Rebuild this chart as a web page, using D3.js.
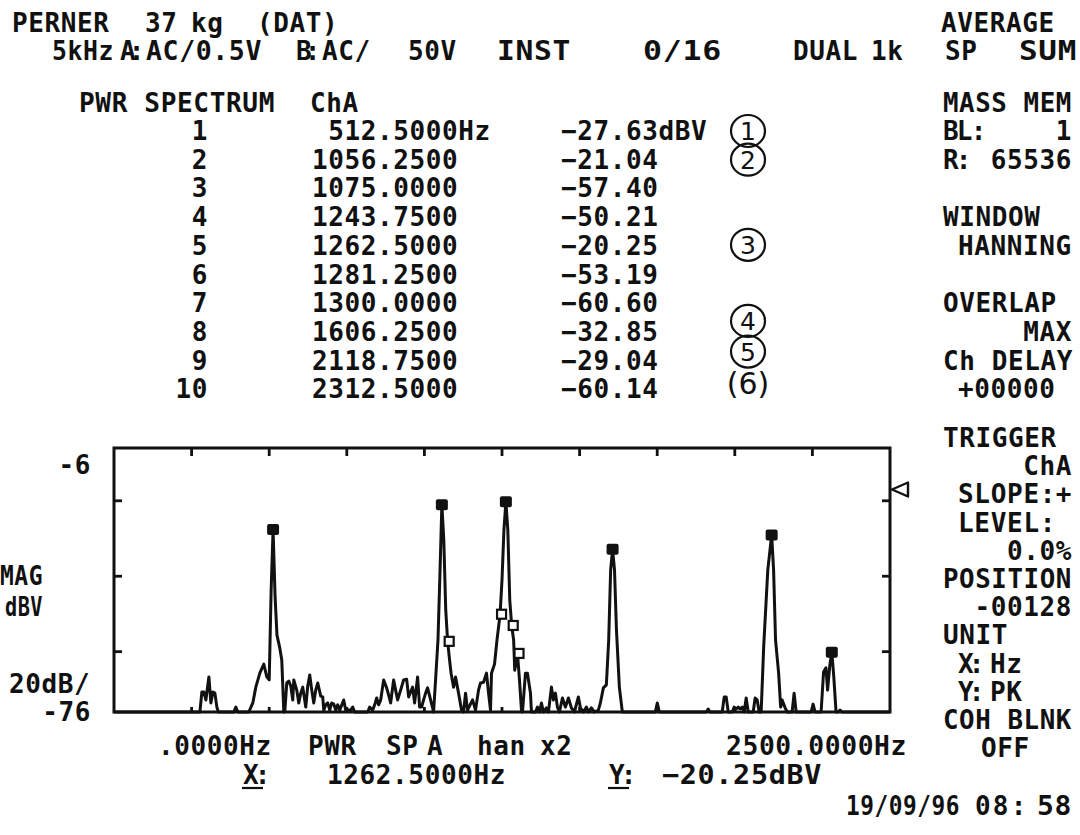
<!DOCTYPE html>
<html><head><meta charset="utf-8">
<script src="https://cdn.jsdelivr.net/npm/d3@7"></script>
<style>
html,body{margin:0;padding:0;background:#fff;}
svg text{font-family:"DejaVu Sans Mono",monospace;font-weight:bold;font-size:26px;fill:#111;letter-spacing:0.6px;white-space:pre;}
svg text.hand{font-family:"DejaVu Sans",sans-serif;font-weight:normal;font-size:25px;letter-spacing:0;}
</style></head><body>
<svg id="c" width="1080" height="835"></svg>
<script>
// ---- data ----
const peakIndex = [1,2,3,4,5,6,7,8,9,10];
const peakHz = [512.5,1056.25,1075,1243.75,1262.5,1281.25,1300,1606.25,2118.75,2312.5];
const peakDb = [-27.63,-21.04,-57.40,-50.21,-20.25,-53.19,-60.60,-32.85,-29.04,-60.14];
const peakFilled = [true,true,false,false,true,false,false,true,true,true];
const noteRows = [1,2,5,8,9,10];
const noteLabels = ["1","2","3","4","5","(6)"];
const xDomain = [0,2500];
const yDomain = [-76,-6];
const xTicks = [250,500,750,1000,1250,1500,1750,2000,2250];
const yTicks = [-20,-40,-60];
const yEndLabels = ["-6","-76"];
const xEndLabels = [".0000Hz","2500.0000Hz"];
const cursorHz = 1262.5, cursorDb = -20.25;
const triggerMarkDb = -17;
const spectrumTrace = [
[0,-76],[244.5,-76],[276.7,-76],[283.1,-70.7],[289.6,-70.7],[296.0,-72.8],[305.7,-66.7],[312.1,-73.6],[318.5,-70.7],[325.0,-71.0],[331.4,-74.7],[336.2,-76],
[386.1,-76],[392.5,-74.7],[399.0,-76],[434.4,-76],[447.2,-73.6],[456.9,-69.4],[469.8,-65.7],[482.6,-63.3],[492.3,-66.7],[500,-67.5],[506.25,-43.7],[512.5,-27.63],
[518.75,-45.0],[525,-55.6],[534.1,-59.0],[540.5,-62.2],[547.0,-76],[550.2,-76],[556.6,-68.3],[563.1,-67.8],[569.5,-69.1],[575.9,-72.8],[579.2,-67.5],[588.8,-70.2],
[595.2,-73.6],[601.7,-71.0],[608.1,-69.4],[617.8,-74.7],[624.2,-69.1],[630.6,-66.2],[637.1,-70.2],[643.5,-73.6],[649.9,-70.2],[656.4,-68.3],[666.0,-71.8],[672.5,-72.0],
[675.7,-75.5],[682.1,-74.1],[688.5,-73.6],[695.0,-75.5],[701.4,-73.6],[707.9,-73.9],[714.3,-75.5],[720.7,-74.1],[727.2,-75.5],[740.0,-72.8],[746.5,-75.5],[762.5,-75.5],
[769.0,-74.7],[775.4,-76],[817.2,-76],[823.7,-74.7],[833.3,-75.5],[839.8,-74.1],[846.2,-72.3],[852.6,-74.1],[859.1,-72.8],[868.7,-67.5],[878.4,-69.6],[884.8,-71.5],
[891.2,-73.6],[900.9,-67.5],[907.3,-70.2],[913.8,-72.8],[923.4,-70.2],[933.1,-67.5],[942.7,-67.3],[949.2,-72.0],[955.6,-70.7],[962.0,-69.4],[968.5,-73.6],[978.1,-66.7],
[984.6,-74.7],[991.0,-74.7],[997.4,-72.8],[1003.9,-71.0],[1010.3,-69.6],[1020.0,-72.8],[1029.6,-76],[1036.0,-67.5],[1043.75,-56.9],[1050,-39.7],[1056.25,-21.04],
[1062.5,-30.4],[1068.75,-49.0],[1075,-57.40],[1081.1,-62.2],[1085.9,-65.7],[1094.0,-69.4],[1100.4,-66.7],[1110.0,-71.0],[1119.7,-75.5],[1126.1,-76],[1132.6,-71.0],
[1139.0,-75.5],[1155.1,-72.8],[1164.7,-75.5],[1174.4,-70.2],[1180.8,-68.3],[1190.5,-68.1],[1200.1,-65.7],[1206.6,-71.0],[1213.0,-75.5],[1216.2,-65.7],[1225.9,-63.3],
[1233.9,-56.9],[1243.75,-50.21],[1250,-41.0],[1256.25,-27.7],[1262.5,-20.25],[1268.75,-27.7],[1275,-46.3],[1281.25,-53.19],[1287.5,-56.9],[1291,-64.9],[1300,-60.60],
[1306.3,-67.5],[1312.7,-75.5],[1316,-76],[1325.6,-65.7],[1332.0,-65.7],[1341.7,-71.0],[1344.9,-76],[1357.8,-76],[1364.2,-74.7],[1370.7,-76],[1377.1,-73.6],[1383.5,-76],
[1393.2,-74.9],[1399.6,-76],[1409.3,-69.4],[1415.7,-72.8],[1422.1,-71.0],[1428.6,-74.7],[1435.0,-76],[1444.7,-72.3],[1454.3,-74.7],[1464.0,-72.3],[1473.6,-74.9],
[1483.3,-76],[1496.1,-72.0],[1502.6,-74.9],[1512.2,-76],[1521.9,-74.7],[1528.3,-76],[1538.0,-74.9],[1547.6,-76],[1560.5,-75.5],[1566.9,-73.6],[1576.6,-69.6],[1586.2,-68.8],
[1593.75,-56.9],[1600,-38.4],[1606.25,-32.85],[1612.5,-38.4],[1618.75,-54.3],[1628.1,-69.4],[1637.7,-76],[1743.9,-76],[1750.3,-73.6],[1756.8,-76],[1908.0,-76],
[1914.4,-75.2],[1920.8,-76],[1959.5,-76],[1965.9,-72.0],[1972.3,-72.0],[1978.8,-76],[1991.6,-76],[1998.1,-74.7],[2004.5,-75.2],[2010.9,-74.7],[2017.4,-75.2],[2023.8,-74.7],
[2030.2,-76],[2036.7,-72.3],[2043.1,-76],[2059.2,-76],[2065.6,-72.3],[2072.1,-72.8],[2078.5,-76],[2084.9,-76],[2093.0,-58.8],[2106.25,-38.4],[2118.75,-29.04],[2125,-38.4],
[2131.25,-56.9],[2141.2,-65.7],[2147.7,-74.7],[2152.5,-72.8],[2162.2,-74.9],[2168.6,-76],[2184.7,-76],[2191.1,-71.0],[2197.6,-76],[2245.8,-76],[2252.3,-73.9],[2258.7,-76],
[2278.0,-76],[2286.0,-65.4],[2293.75,-64.3],[2298.9,-70.2],[2306.25,-63.5],[2312.5,-60.14],[2318.75,-66.5],[2326.2,-76],[2332.7,-76],[2339.1,-75.5],[2345.6,-76],[2500,-76]
];

// ---- drawing ----
const svg = d3.select("#c");
const ink = "#111";
const L = 114, R = 890, T = 448, B = 712;
const x = d3.scaleLinear().domain(xDomain).range([L, R]);
const y = d3.scaleLinear().domain(yDomain).range([B, T]);

function txt(px, py, s, anchor, cls, len, adj){
  const t = svg.append("text").attr("x", px).attr("y", py).attr("text-anchor", anchor || "start")
    .attr("class", cls || null).text(s);
  if (len) t.attr("textLength", len).attr("lengthAdjust", adj || "spacingAndGlyphs");
  return t;
}
const S = "spacing";

// header
const h1 = 32, h2 = 60, h3 = 112;
txt(12,h1,"PERNER"); txt(145,h1,"37"); txt(191,h1,"kg"); txt(257,h1,"(DAT)");
txt(941,h1,"AVERAGE");
txt(52,h2,"5kHz",null,null,62); txt(120,h2,"A:",null,null,25,S); txt(146,h2,"AC/0.5V",null,null,116);
txt(296,h2,"B:",null,null,25,S); txt(322,h2,"AC/"); txt(408,h2,"50V");
txt(497,h2,"INST",null,null,74); txt(643,h2,"0/16",null,null,79); txt(793,h2,"DUAL"); txt(871,h2,"1k");
txt(945,h2,"SP"); txt(1019,h2,"SUM",null,null,58);
txt(79,h3,"PWR SPECTRUM",null,null,196); txt(310,h3,"ChA"); txt(943,h3,"MASS MEM",null,null,129);

// peak table
const rowY = i => 140 + 28.7 * i;
const fHz = d3.format(".4f"), fDb = d3.format(".2f");
peakIndex.forEach((n, i) => {
  txt(208, rowY(i), String(n), "end");
  const fs = fHz(peakHz[i]).padStart(9, " ") + (i === 0 ? "Hz" : "");
  txt(312, rowY(i), fs);
  const ds = fDb(peakDb[i]) + (i === 0 ? "dBV" : "");
  txt(561, rowY(i), ds);
});

// hand annotations
noteRows.forEach((r, k) => {
  const cyOff = [0, 0, -1, -11, -9, -5][k];
  const cy = rowY(r - 1) - 9 + cyOff;
  if (noteLabels[k].length === 1) {
    svg.append("ellipse").attr("cx", 748).attr("cy", cy).attr("rx", 17).attr("ry", 16)
      .attr("fill", "none").attr("stroke", ink).attr("stroke-width", 2.2);
    txt(748, cy + 9, noteLabels[k], "middle", "hand");
  } else {
    txt(748, cy + 10, noteLabels[k], "middle", "hand").style("font-size", "30px");
  }
});

// right panel (upper)
txt(943,rowY(0),"BL:",null,null,44,S); txt(1072,rowY(0),"1","end");
txt(943,rowY(1),"R:",null,null,29,S); txt(1072,rowY(1),"65536","end");
txt(943,rowY(3),"WINDOW"); txt(958,rowY(4),"HANNING");
txt(943,rowY(6),"OVERLAP"); txt(1072,rowY(7),"MAX","end");
txt(943,rowY(8),"Ch DELAY"); txt(958,rowY(9),"+00000");

// right panel (lower)
const lr = i => 447 + 28.2 * i;
txt(943,lr(0),"TRIGGER"); txt(1072,lr(1),"ChA","end");
txt(958,lr(2),"SLOPE:",null,null,98,S); txt(1072,lr(2),"+","end");
txt(958,lr(3),"LEVEL:",null,null,98,S); txt(1072,lr(4),"0.0%","end");
txt(943,lr(5),"POSITION",null,null,129); txt(1072,lr(6),"-00128","end");
txt(943,lr(7),"UNIT");
txt(958,lr(8),"X:",null,null,27,S); txt(990,lr(8),"Hz");
txt(958,lr(9),"Y:",null,null,27,S); txt(990,lr(9),"PK");
txt(943,lr(10),"COH BLNK",null,null,129); txt(981,lr(11),"OFF");

// y labels
txt(91, 474, yEndLabels[0], "end");
txt(91, 721, yEndLabels[1], "end");
txt(0, 585, "MAG", null, null, 43);
txt(5, 616, "dBV", null, null, 38);
txt(9, 693, "20dB/");

// axes ticks
const g = svg.append("g").attr("stroke", ink).attr("stroke-width", 2.8).attr("fill", "none");
xTicks.forEach(v => {
  g.append("line").attr("x1", x(v)).attr("x2", x(v)).attr("y1", T).attr("y2", T + 8);
  g.append("line").attr("x1", x(v)).attr("x2", x(v)).attr("y1", B).attr("y2", B - 5);
});
yTicks.forEach(v => {
  g.append("line").attr("x1", L).attr("x2", L + 8).attr("y1", y(v)).attr("y2", y(v));
  g.append("line").attr("x1", R).attr("x2", R - 8).attr("y1", y(v)).attr("y2", y(v));
});

// trace
const line = d3.line().x(d => x(d[0])).y(d => y(Math.max(yDomain[0], d[1])));
svg.append("path").datum(spectrumTrace).attr("d", line).attr("fill", "none")
  .attr("stroke", ink).attr("stroke-width", 3).attr("stroke-linejoin", "round");

// frame
svg.append("rect").attr("x", L).attr("y", T).attr("width", R - L).attr("height", B - T)
  .attr("fill", "none").attr("stroke", ink).attr("stroke-width", 3);

// peak markers
peakHz.forEach((f, i) => {
  if (peakFilled[i]) {
    svg.append("rect").attr("x", x(f) - 6).attr("y", y(peakDb[i]) - 5.5).attr("width", 12).attr("height", 11)
      .attr("rx", 2).attr("fill", ink);
  } else {
    svg.append("rect").attr("x", x(f) - 3).attr("y", y(peakDb[i]) - 5).attr("width", 9).attr("height", 9)
      .attr("fill", "#fff").attr("stroke", ink).attr("stroke-width", 2.2);
  }
});

// trigger marker
const ty = y(triggerMarkDb);
svg.append("path").attr("d", `M${R+2},${ty} L${R+18},${ty-7} L${R+18},${ty+7} Z`)
  .attr("fill", "none").attr("stroke", ink).attr("stroke-width", 2.4).attr("stroke-linejoin", "round");

// bottom labels
const b1 = 755, b2 = 784;
txt(158,b1,xEndLabels[0]); txt(308,b1,"PWR"); txt(386,b1,"SP"); txt(427,b1,"A"); txt(477,b1,"han"); txt(540,b1,"x2");
txt(726,b1,xEndLabels[1],null,null,181);
txt(243,b2,"X:",null,null,28,S); txt(327,b2,fHz(cursorHz)+"Hz",null,null,179);
txt(609,b2,"Y:",null,null,28,S); txt(662,b2,fDb(cursorDb)+"dBV",null,null,160);
svg.append("line").attr("x1",242).attr("x2",263).attr("y1",b2+4).attr("y2",b2+4).attr("stroke",ink).attr("stroke-width",2.2);
svg.append("line").attr("x1",608).attr("x2",629).attr("y1",b2+4).attr("y2",b2+4).attr("stroke",ink).attr("stroke-width",2.2);
txt(846,815,"19/09/96",null,null,114); txt(975,815,"08:",null,null,52,S); txt(1037,815,"58",null,null,35);
</script>
</body></html>
